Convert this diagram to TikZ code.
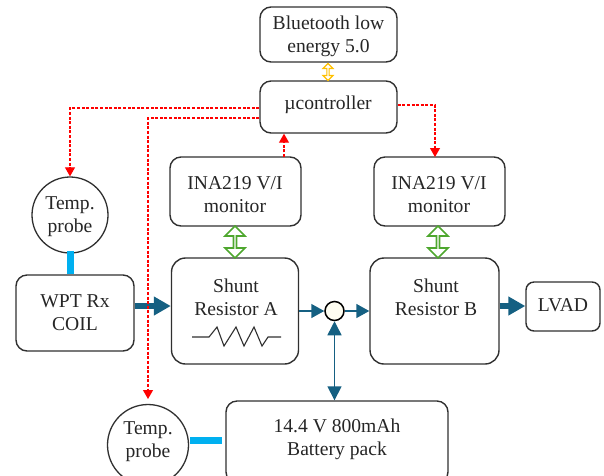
\documentclass[tikz,border=0pt]{standalone}
\usepackage{fontspec}
\setmainfont{Liberation Serif}
\usetikzlibrary{arrows.meta,shapes.arrows}
\definecolor{flow}{HTML}{156082}
\definecolor{probe}{HTML}{00B0F0}
\definecolor{sig}{HTML}{FF0000}
\definecolor{bus}{HTML}{4EA72E}
\definecolor{ble}{HTML}{FFC000}
\definecolor{edge}{HTML}{303030}
\tikzset{
 x=1pt,y=-1pt,
 every node/.style={font=\fontsize{19.6}{23}\selectfont,text=black!85},
 blockbox/.style={draw=edge,line width=1.4pt,fill=white,rounded corners=#1,inner sep=0pt},
 blockbox/.default=11pt,
 txt/.style={align=center,inner sep=0pt},
 probecircle/.style={draw=edge,line width=1.3pt,circle,fill=white,inner sep=0pt,minimum size=#1},
 sigline/.style={draw=sig,line width=1.1pt,dash pattern=on 3pt off 1.6pt,-{Triangle[length=9pt,width=10pt,fill=sig,sharp]}},
 heavy/.style={draw=flow,line width=6pt,-{Triangle[length=17pt,width=18pt]}},
 thin flow/.style={draw=flow,line width=1.5pt,-{Triangle[length=13pt,width=14pt]}},
 probelink/.style={draw=probe,line width=7pt},
 busarrow/.style={draw=#1,line width=1.6pt,fill=white,shape=double arrow,rotate=90,inner sep=0pt,minimum height=32pt,minimum width=20pt,double arrow head extend=4.5pt,double arrow head indent=0pt,text width=4pt},
}
\begin{document}
\begin{tikzpicture}
\useasboundingbox (0,0) rectangle (604,475);
\clip (0,0) rectangle (604,475);
\node[blockbox,minimum width=137pt,minimum height=55pt] (bt) at (328.5,34.5) {};
\node[txt] (bttxt) at (328.5,36.5) {Bluetooth low\\energy 5.0};
\node[blockbox,minimum width=137pt,minimum height=52pt] (mc) at (328.5,107) {};
\node[txt] (mctxt) at (328,105) {µcontroller};
\node[blockbox,minimum width=131pt,minimum height=69pt] (ia) at (235.5,191.5) {};
\node[txt] (iatxt) at (235,195) {INA219 V/I\\monitor};
\node[blockbox,minimum width=131pt,minimum height=69pt] (ib) at (439.5,191.5) {};
\node[txt] (ibtxt) at (439,195) {INA219 V/I\\monitor};
\node[blockbox=14pt,minimum width=127pt,minimum height=106pt] (sa) at (235,311) {};
\node[txt] (satxt) at (236,297) {Shunt\\Resistor A};
\node[blockbox=14pt,minimum width=129pt,minimum height=106pt] (sb) at (434.5,311) {};
\node[txt] (sbtxt) at (436,297) {Shunt\\Resistor B};
\node[blockbox,minimum width=118pt,minimum height=76pt] (wpt) at (75,313) {};
\node[txt] (wpttxt) at (75,313) {WPT Rx\\COIL};
\node[blockbox=8pt,minimum width=74pt,minimum height=49pt] (lv) at (563,306.5) {};
\node[txt] (lvtxt) at (563,305) {LVAD};
\node[blockbox,minimum width=222pt,minimum height=82pt] (bat) at (337,442) {};
\node[txt] (battxt) at (337,439) {14.4 V 800mAh\\Battery pack};
\node[probecircle=76pt] (t1) at (70,215) {};
\node[txt] (t1txt) at (70,217) {Temp.\\probe};
\node[probecircle=81pt] (t2) at (148,445) {};
\node[txt] (t2txt) at (148,442) {Temp.\\probe};
\node[circle,draw=black,line width=1.5pt,fill=yellow!5,minimum size=19pt,inner sep=0pt] (j) at (334.5,311) {};
% resistor symbol
\draw[edge,line width=1.1pt,line join=miter] (192,337) -- (209,337) -- (217,327) -- (224,346) -- (236,327) -- (244,346) -- (254,327) -- (262,346) -- (268,337) -- (281,337);
% cyan probe links
\path[probelink] (t1.south |- 0,251) -- (t1.south |- wpt.north);
\coordinate (t2e) at (190,440);
\coordinate (bate) at (222,440);
\path[probelink] (t2e) -- (bate);
% power flow
\coordinate (wptout) at (wpt.east |- 0,306);
\coordinate (saIn) at (sa.west |- 0,306);
\path[heavy] (wptout) -- (saIn);
\coordinate (saout) at (sa.east |- j.west);
\path[thin flow] (saout) -- (j.west);
\path[thin flow] (j.east) -- (sb.west |- j.east);
\coordinate (sbout) at (sb.east |- 0,306);
\path[heavy] (sbout) -- (lv.west |- 0,306);
\draw[flow,line width=1.5pt,{Triangle[length=14pt,width=14pt]}-{Triangle[length=14pt,width=14pt]}] (j.south) -- (j.south |- bat.north);
% signal lines
\coordinate (m1) at (mc.west |- 0,108);
\coordinate (m2) at (mc.west |- 0,118);
\coordinate (m3) at (mc.east |- 0,105);
\coordinate (t2top) at (148,399);
\path[sigline] (m1) -| (t1.north);
\path[sigline] (m2) -| (t2top);
\path[sigline] (m3) -| (435,157);
\coordinate (iaout) at (284,157);
\path[sigline] (iaout) -- (iaout |- mc.south);
% bus arrows
\node[busarrow=bus] (ga) at (235,242) {};
\node[busarrow=bus] (gb) at (438,242) {};
\node[busarrow=ble,minimum height=17pt,minimum width=10pt,double arrow head extend=2pt,text width=2pt,line width=1.1pt] (ya) at (328,72) {};
\end{tikzpicture}
\end{document}
